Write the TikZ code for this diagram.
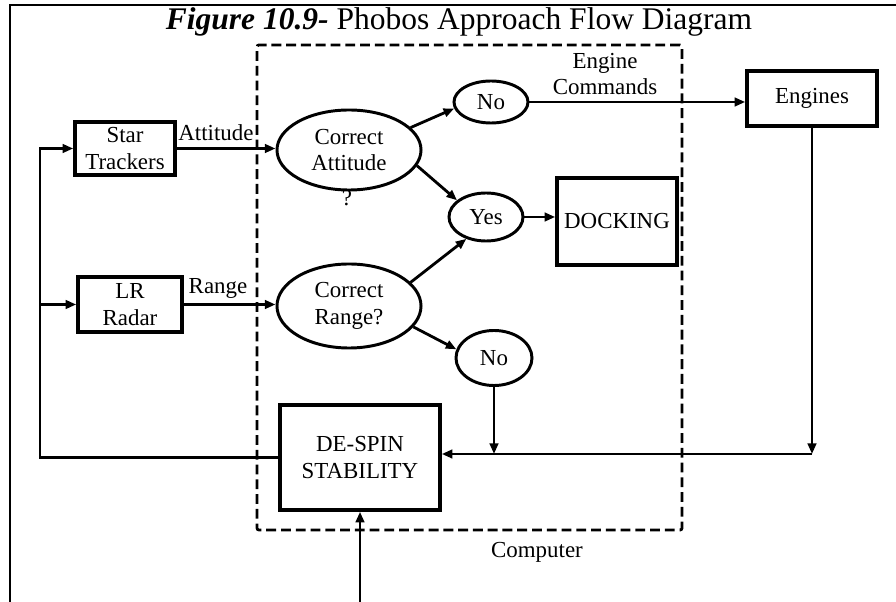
\documentclass[tikz,border=0pt]{standalone}
\usepackage{fontspec}
\setmainfont{Liberation Serif}
\usetikzlibrary{arrows.meta,shapes.geometric}

\begin{document}
\begin{tikzpicture}[
  x=0.025cm, y=-0.025cm,
  font=\fontsize{16.3}{19}\selectfont,
  every node/.style={align=center},
  box/.style={draw, rectangle, line width=2.5pt, inner sep=0pt},
  oval/.style={draw, ellipse, line width=2.1pt, inner sep=0pt},
  compbox/.style={draw, rectangle, line width=2pt, dash pattern=on 7pt off 3.5pt,
                  rounded corners=1.5pt, inner sep=0pt},
  arr/.style={-{Triangle[length=7.5pt,width=6pt]}, line width=2pt},
  lbl/.style={inner sep=1pt},
]
\useasboundingbox (0,0) rectangle (896,602);

% ---- page frame and title ----
\draw[line width=1.5pt] (10,602) -- (10,5) -- (896,5);
\node[font=\fontsize{22.4}{26}\selectfont, anchor=base] (title) at (459,30)
  {\textbf{\textit{Figure 10.9-}} Phobos Approach Flow Diagram};

% ---- the computer ----
\node[compbox, minimum width=10.625cm, minimum height=12.125cm] (comp) at (469.5,287.5) {};
\node[lbl] (complbl) at (537,552) {Computer};

% ---- sensors ----
\node[box, minimum width=2.5cm, minimum height=1.325cm] (star) at (125,148.5) {Star\\Trackers};
\node[box, minimum width=2.6cm, minimum height=1.375cm] (lr)   at (130,304.5) {LR\\Radar};

% ---- decisions ----
\node[oval, minimum width=3.6cm, minimum height=2cm]     (ca)  at (349,150) {Correct\\Attitude};
\node[lbl] (qm) at (347,198) {?};
\node[oval, minimum width=3.6cm, minimum height=2.1cm]   (cr)  at (349,306) {Correct\\Range?};
\node[oval, minimum width=1.85cm, minimum height=1.05cm] (no1) at (491,102) {No};
\node[oval, minimum width=1.85cm, minimum height=1.2cm]  (yes) at (486,217) {Yes};
\node[oval, minimum width=1.9cm, minimum height=1.375cm] (no2) at (494,358) {No};

% ---- actions ----
\node[box, minimum width=3cm, minimum height=2.175cm]  (dock)   at (617,221.5) {DOCKING};
\node[box, minimum width=3.25cm, minimum height=1.375cm] (eng)  at (812,98.5)  {Engines};
\node[box, minimum width=4cm, minimum height=2.625cm]  (despin) at (360,457.5) {DE-SPIN\\STABILITY};

% ---- labels on the lines ----
\node[lbl] (attlbl) at (216,133) {Attitude};
\node[lbl] (rnglbl) at (218,288) {Range};
\node[lbl] (englbl) at (605,74)  {Engine\\Commands};

% ---- free ends ----
\coordinate (loop) at (40,457.5);
\coordinate (bus)  at (812,454);
\coordinate (cmd)  at (360,602);

% ---- connectors ----
\draw[arr] (star.east) -- (star.east -| ca.west);
\draw[arr] (lr.east) -- (lr.east -| cr.west);
\foreach \a/\b in {ca.20/no1.190, ca.-13/yes.150, cr.21/yes.228, cr.-18/no2.167}
  \draw[arr] (\a) -- (\b);
\draw[arr] (yes.east) -- (yes.east -| dock.west);
\draw[arr] (no1.east) -- (no1.east -| eng.west);

\draw[arr] (eng.south) -- (bus);
\draw[arr] (bus) -- (bus -| despin.east);
\draw[arr] (no2.south) -- (no2.south |- bus);

\draw[arr] (despin.west) -- (loop) |- (star.west);
\draw[arr] (loop |- lr.west) -- (lr.west);
\draw[arr] (cmd) -- (despin.south);
\end{tikzpicture}
\end{document}
